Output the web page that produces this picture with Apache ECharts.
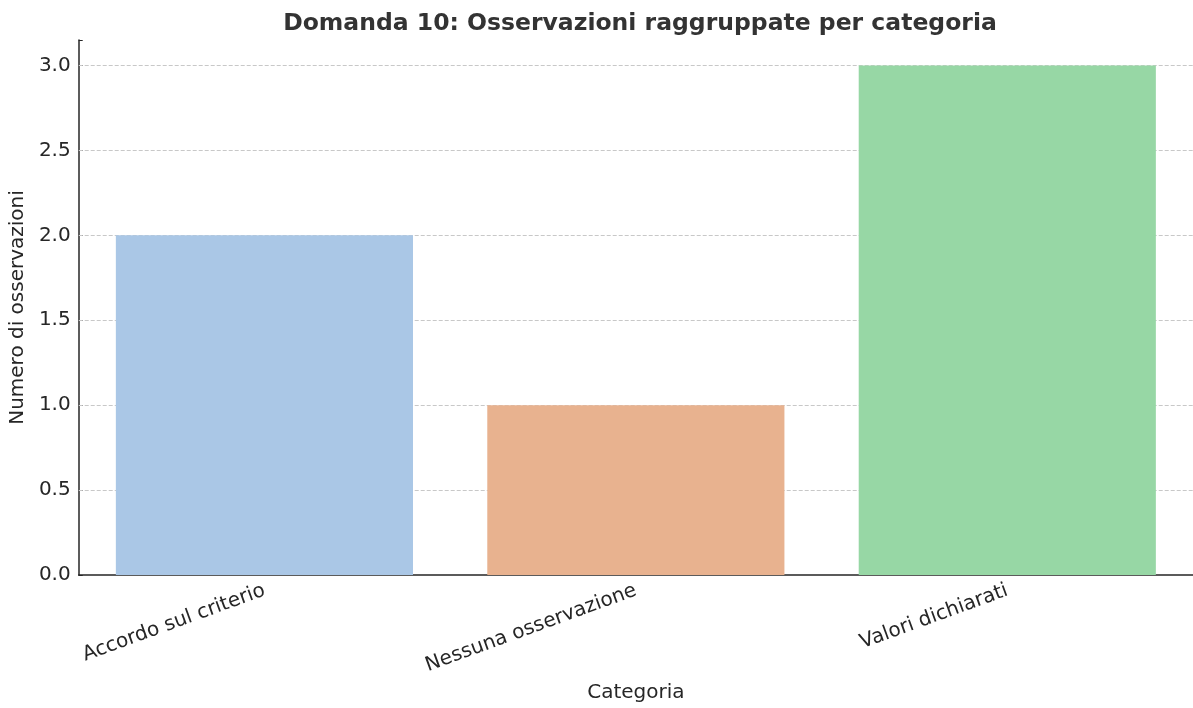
<!DOCTYPE html>
<html><head><meta charset="utf-8">
<script src="https://cdn.jsdelivr.net/npm/echarts@6/dist/echarts.min.js"></script>
<style>html,body{margin:0;padding:0;background:#fff}#c{width:1193px;height:708px}</style>
</head><body><div id="c"></div>
<script>
const categories = ["Accordo sul criterio", "Nessuna osservazione", "Valori dichiarati"];
const values = [2, 1, 3];
const colors = ["#aac7e6", "#e8b28f", "#97d7a5"];
const yTicks = [0, 0.5, 1.0, 1.5, 2.0, 2.5, 3.0];

const chart = echarts.init(document.getElementById('c'), null, {renderer: 'canvas'});
const F = "DejaVu Sans";
chart.setOption({
  animation: false,
  title: {
    text: "Domanda 10: Osservazioni raggruppate per categoria",
    left: 635, top: 7, textAlign: 'center',
    textStyle: {fontFamily: F, fontWeight: 'bold', fontSize: 23.5, color: '#333333'}
  },
  grid: {left: 77, right: 0, top: 40, bottom: 132, containLabel: false},
  xAxis: {
    type: 'category', data: categories,
    name: 'Categoria', nameLocation: 'middle', nameGap: 108,
    nameTextStyle: {fontFamily: F, fontSize: 20, color: '#262626'},
    axisLine: {lineStyle: {color: '#262626', width: 1.5}},
    axisTick: {show: true, alignWithLabel: true, inside: true, length: 5, lineStyle: {color: '#262626'}},
    axisLabel: {rotate: 20, fontFamily: F, fontSize: 20, color: '#262626', margin: 15},
    splitLine: {show: false}
  },
  yAxis: {
    type: 'value', min: 0, max: 3.15, interval: 0.5,
    name: 'Numero di osservazioni', nameLocation: 'middle', nameGap: 46,
    nameTextStyle: {fontFamily: F, fontSize: 20, color: '#262626'},
    axisLine: {show: true, lineStyle: {color: '#262626', width: 1.5}},
    axisTick: {show: true, inside: true, length: 4, lineStyle: {color: '#262626'},
      interval: 0},
    axisLabel: {fontFamily: F, fontSize: 20, color: '#262626', margin: 8,
      formatter: v => yTicks.includes(v) ? v.toFixed(1) : ''},
    splitLine: {show: false}
  },
  series: [{
    type: 'bar', z: 2,
    data: values.map((v, i) => ({value: v, itemStyle: {color: colors[i]}})),
    barWidth: '80%',
    markLine: {
      z: 1, silent: true, symbol: ['none', 'none'], label: {show: false},
      lineStyle: {color: '#c8c8c8', type: [4, 2], width: 1},
      data: yTicks.filter(t => t > 0).map(t => ({yAxis: t}))
    }
  }]
});
</script></body></html>
